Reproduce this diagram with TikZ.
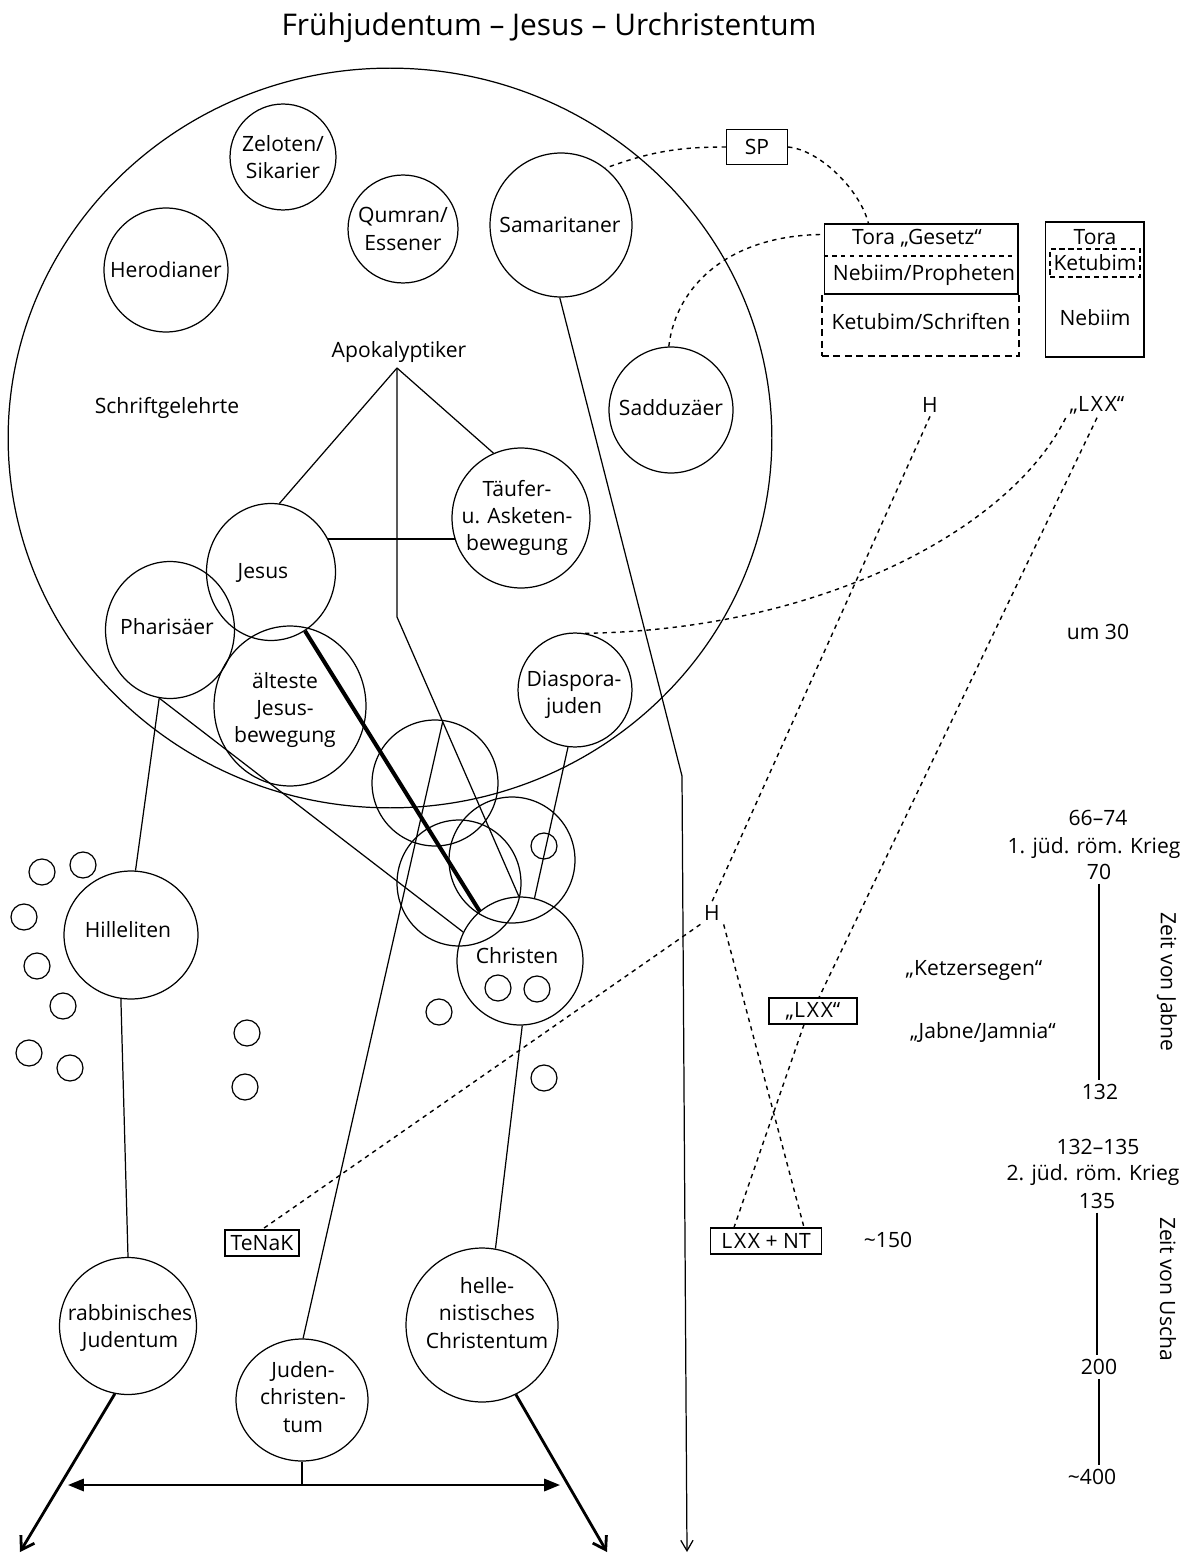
\documentclass[tikz,border=0pt]{standalone}
\usepackage{fontspec}
\setmainfont{Open Sans}
\usetikzlibrary{shapes.geometric,calc,arrows.meta}
\begin{document}
\begin{tikzpicture}[x=0.02cm,y=-0.02cm,
  ell/.style 2 args={draw, ellipse, inner sep=0pt, line width=0.7pt, minimum width={#1*0.04cm}, minimum height={#2*0.04cm}},
  sm/.style={ell={13}{13}},
  tx/.style={inner sep=0pt, align=center, font=\fontsize{12}{15.6}\selectfont},
  tb/.style={tx, inner sep=2pt},
  bx/.style={draw, line width=0.6pt, inner sep=0pt, font=\fontsize{12}{14}\selectfont},
  ln/.style={line width=0.7pt},
  dsh/.style={line width=0.8pt, dash pattern=on 2.5pt off 2.5pt},
  dshk/.style={line width=1.3pt, dash pattern=on 4pt off 2.5pt},
  thk/.style={line width=2.3pt},
  arr/.style={line width=1.6pt, -{Straight Barb[length=7pt,width=9pt]}}]
\fill[white] (0,0) rectangle (1187,1557);
\useasboundingbox (0,0) rectangle (1187,1557);

% title
\node[font=\fontsize{17}{20}\selectfont, anchor=base, inner sep=0pt] (title) at (549,36) {Frühjudentum – Jesus – Urchristentum};

% big circle
\node[ell={382}{370}] (big) at (390,438) {};

% group circles
\node[ell={53}{53}] (zel) at (283,157) {};
\node[ell={55}{54}] (qum) at (403,229) {};
\node[ell={62}{62}] (her) at (166,270) {};
\node[ell={71}{72}] (sam) at (561,225) {};
\node[ell={62}{63}] (sad) at (671,410) {};
\node[ell={69}{70}] (tau) at (521,518) {};
\node[ell={64.5}{68.5}] (jes) at (271,572) {};
\node[ell={64.5}{68.5}] (pha) at (170,630) {};
\node[ell={76}{80}] (alt) at (290,706) {};
\node[ell={57}{57}] (dia) at (575,690) {};
\node[ell={63}{63}] (c1) at (435,783) {};
\node[ell={62}{63}] (c2) at (459,883) {};
\node[ell={63}{63}] (c3) at (512,860) {};
\node[ell={63}{64}] (chr) at (520,961) {};
\node[ell={67}{64}] (hil) at (131,935) {};
\node[ell={68.5}{68.5}] (rab) at (128,1326) {};
\node[ell={66}{61}] (jch) at (302,1400) {};
\node[ell={76}{77}] (hel) at (482,1325) {};

% small circles
\foreach \p [count=\i] in {(42,872),(83,865),(24,917),(37,966),(63,1006),(29,1053),(70,1068),(247,1033),(245,1087),(439,1012),(544,1078),(498,988),(537,989),(544,846)}
  \node[sm, name=s\i] at \p {};

% labels
\node[tx] (zelT) at (283,157) {Zeloten/\\Sikarier};
\node[tx] (qumT) at (403,229) {Qumran/\\Essener};
\node[tx] (herT) at (166,270) {Herodianer};
\node[tx] (samT) at (560,225) {Samaritaner};
\node[tx] (sadT) at (671,408) {Sadduzäer};
\node[tx] (apo) at (399,352) {Apokalyptiker};
\node[tx] (schr) at (167,408) {Schriftgelehrte};
\node[tx] (tauT) at (517,518) {Täufer-\\u. Asketen-\\bewegung};
\node[tx] (jesT) at (263,573) {Jesus};
\node[tx] (phaT) at (167,627) {Pharisäer};
\node[tx] (altT) at (285,710) {älteste\\Jesus-\\bewegung};
\node[tx] (diaT) at (574,695) {Diaspora-\\juden};
\node[tx] (chrT) at (517,956) {Christen};
\node[tx] (hilT) at (128,930) {Hilleliten};
\node[tx] (rabT) at (130,1328) {rabbinisches\\Judentum};
\node[tx] (jchT) at (303,1397) {Juden-\\christen-\\tum};
\node[tx] (helT) at (487,1313) {helle-\\nistisches\\Christentum};

% boxes top right
\node[bx, minimum width=1.22cm, minimum height=0.7cm] (sp) at (757,147) {SP};
\node[draw, line width=0.6pt, minimum width=3.88cm, minimum height=1.4cm, inner sep=0pt] (tora) at (921,259) {};
\draw[dsh] ($(tora.north west)!0.457!(tora.south west)$) -- ($(tora.north east)!0.457!(tora.south east)$);
\node[draw, dshk, minimum width=3.94cm, minimum height=1.24cm, inner sep=0pt] (ketL) at (920.5,325) {};
\node[tx] (toraT) at (917,238) {Tora „Gesetz“};
\node[tx] (nebT) at (924,275) {Nebiim/Propheten};
\node[tx] (ketT) at (921,322) {Ketubim/Schriften};
\node[draw, line width=0.6pt, minimum width=1.98cm, minimum height=2.7cm, inner sep=0pt] (rbox) at (1094.5,289.5) {};
\node[tx] (toraR) at (1095,237) {Tora};
\node[draw, line width=1.1pt, dash pattern=on 3pt off 2pt, minimum width=1.8cm, minimum height=0.56cm, inner sep=0pt, font=\fontsize{12}{14}\selectfont] (ketR) at (1095,263) {Ketubim};
\node[tx] (nebR) at (1095,318) {Nebiim};

% right column texts
\node[tb] (hU) at (930,405) {H};
\node[tb] (lxxU) at (1097,405) {„L\kern1pt X\kern1pt X“};
\node[tx] (um30) at (1098,632) {um 30};
\node[tb] (hL) at (712,913) {H};
\node[bx, minimum width=1.76cm, minimum height=0.52cm] (lxxB) at (813,1011) {„L\kern1pt X\kern1pt X“};
\node[bx, minimum width=2.22cm, minimum height=0.52cm] (lnt) at (766,1241) {L\kern1pt X\kern1pt X + NT};
\node[bx, minimum width=1.48cm, minimum height=0.52cm] (tenak) at (262,1243) {TeNaK};
\node[tx] (c150) at (888,1240) {\textasciitilde150};
\node[tx] (ketz) at (974,970) {„Ketzersegen“};
\node[tx] (jab) at (983,1032) {„Jabne/Jamnia“};

% timeline
\node[tx] (t6674) at (1098,818) {66–74};
\node[tx] (kr1) at (1094,848) {1. jüd. röm. Krieg};
\node[tb] (t70) at (1099,872) {70};
\node[tb] (t132) at (1100,1092) {132};
\node[tx] (t132135) at (1098,1147) {132–135};
\node[tx] (kr2) at (1093,1175) {2. jüd. röm. Krieg};
\node[tb] (t135) at (1097,1201) {135};
\node[tb] (t200) at (1099,1367) {200};
\node[tb] (t400) at (1092,1477) {\textasciitilde400};
\node[tx, rotate=-90] (zj) at (1167,982) {Zeit von Jabne};
\node[tx, rotate=-90] (zu) at (1168,1289) {Zeit von Uscha};
\draw[ln] (t70.south) -- (t70.south |- t132.north);
\draw[ln] (t135.south) -- (t135.south |- t200.north);
\draw[ln] (t200.south) -- (t200.south |- t400.north);

% solid connectors
\coordinate (apex) at (397,368);
\coordinate (bend) at (397,617);
\draw[ln] (apex) -- (jes.83);
\draw[ln] (apex) -- (tau.113);
\draw[ln] (apex) -- (bend) -- (chr.91);
\coordinate (split) at ($(bend)!0.375!(chr.91)$);
\draw[ln] (split) -- (jch.89);
\draw[ln] (jes.30) -- (jes.30 -| tau.198);
\draw[thk] (jes.-60) -- (chr.129);
\draw[ln] (pha.-99) -- (hil.86);
\draw[ln] (pha.-99) -- (chr.153);
\draw[ln] (hil.-99) -- (rab.90);
\draw[ln] (dia.-97) -- (chr.77);
\draw[ln] (chr.-88) -- (hel.80);
\coordinate (sbend) at (682,776);
\coordinate (send) at (687,1552);
\draw[ln, -{Straight Barb[length=6pt,width=7pt]}] (sam.-91) -- (sbend) -- (send);
\coordinate (rtip) at (20,1552);
\coordinate (htip) at (607,1552);
\draw[arr] (rab.-101) -- (rtip);
\draw[arr] (hel.-64) -- (htip);
\coordinate (la) at (68,1485);
\coordinate (ra) at (560,1485);
\draw[line width=1.3pt, {Triangle[length=9pt,width=7pt]}-{Triangle[length=9pt,width=7pt]}] (la) -- (ra);
\draw[ln] (jch.south) -- (jch.south |- la);

% dashed connectors
\draw[dsh] (sp.west) to[bend right=10] (sam.52);
\draw[dsh] (sp.east) .. controls (820,150) and (860,190) .. ([xshift=0.9cm]tora.north west);
\draw[dsh] (sad.92) .. controls (676,285) and (730,235) .. ([yshift=-0.22cm]tora.north west);
\draw[dsh] (dia.80) .. controls (820,630) and (1010,530) .. (lxxU.south west);
\draw[dsh] (hU.south) -- (hL.north);
\draw[dsh] (lxxU.south) -- ([xshift=0.12cm]lxxB.north);
\draw[dsh] ([xshift=-0.18cm]lxxB.south) -- ([xshift=0.48cm]lnt.north west);
\draw[dsh] (hL.south east) -- ([xshift=-0.36cm]lnt.north east);
\draw[dsh] (hL.south west) -- (tenak.north);
\end{tikzpicture}
\end{document}
